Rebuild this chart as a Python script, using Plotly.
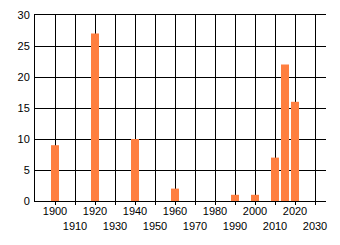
import plotly.graph_objects as go

years = [1900, 1920, 1940, 1960, 1990, 2000, 2010, 2015, 2020]
counts = [9, 27, 10, 2, 1, 1, 7, 22, 16]
tick_years = list(range(1900, 2031, 10))
tick_labels = [str(y) if i % 2 == 0 else "<br>" + str(y) for i, y in enumerate(tick_years)]
y_ticks = [0, 5, 10, 15, 20, 25, 30]

fig = go.Figure(go.Bar(x=years, y=counts, width=4, marker=dict(color="#FF7F40", line=dict(width=0))))

font = dict(family="Liberation Sans, Arial, sans-serif", size=11, color="#000")
fig.update_layout(
    width=340, height=245,
    margin=dict(l=35, r=14, t=15, b=44),
    paper_bgcolor="white", plot_bgcolor="white",
    showlegend=False, font=font,
)
fig.update_xaxes(
    range=[1890, 2035.5], tickvals=tick_years, ticktext=tick_labels,
    showgrid=True, gridcolor="black", gridwidth=1,
    showline=True, linecolor="black", linewidth=1, mirror=True,
    ticks="outside", ticklen=3, tickcolor="black", zeroline=False, tickangle=0,
    automargin=False, ticklabelstandoff=-3,
)
fig.update_yaxes(
    range=[0, 30], tickvals=y_ticks,
    showgrid=True, gridcolor="black", gridwidth=1,
    showline=True, linecolor="black", linewidth=1,
    ticks="", zeroline=False, ticklabelstandoff=2, automargin=False,
)
fig.write_html("out.html")
